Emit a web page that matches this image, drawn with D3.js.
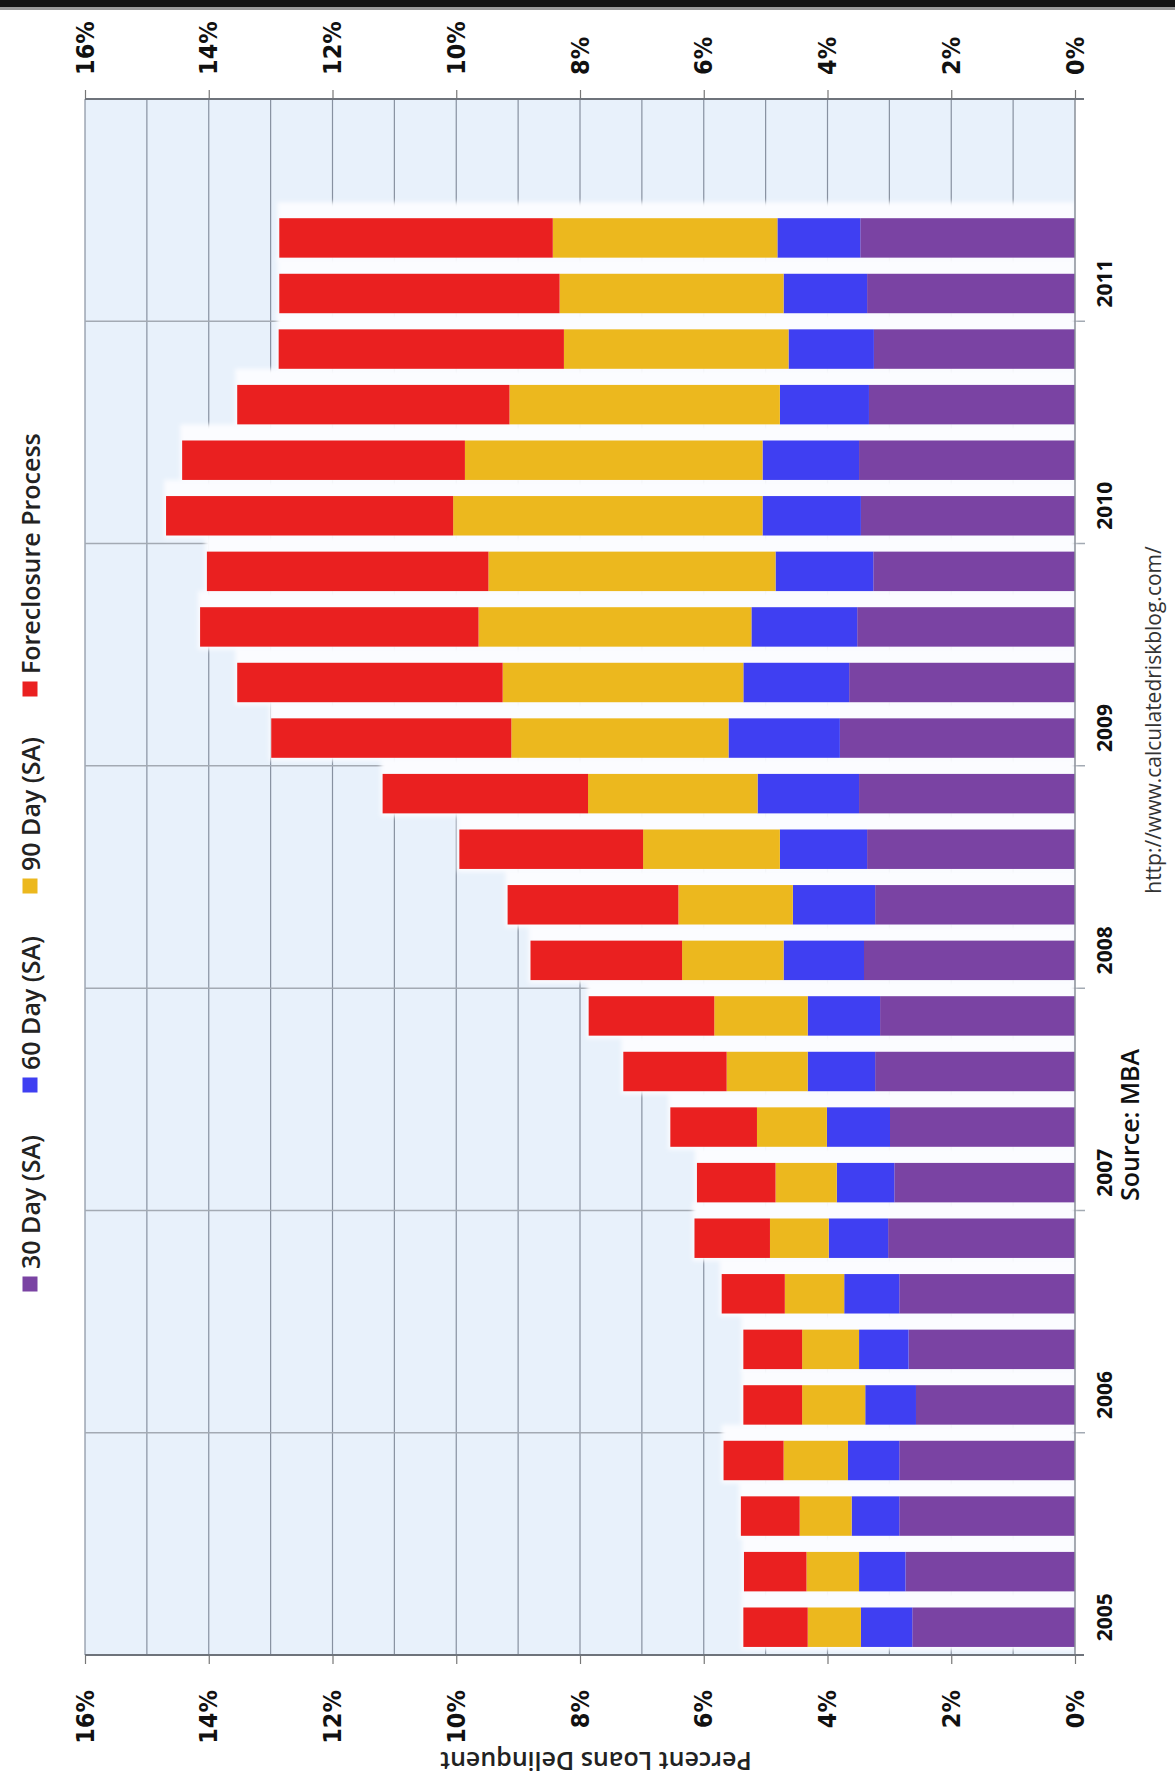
<!DOCTYPE html>
<html>
<head>
<meta charset="utf-8">
<script src="https://cdn.jsdelivr.net/npm/d3@7/dist/d3.min.js"></script>
<style>
  html, body { margin: 0; padding: 0; background: #fff; }
  svg { display: block; }
</style>
</head>
<body>
<svg id="chart" width="1175" height="1786"></svg>
<script>
// quarters on the category axis (last two quarters of 2011 are empty)
const quarters = [
  '2005Q1','2005Q2','2005Q3','2005Q4',
  '2006Q1','2006Q2','2006Q3','2006Q4',
  '2007Q1','2007Q2','2007Q3','2007Q4',
  '2008Q1','2008Q2','2008Q3','2008Q4',
  '2009Q1','2009Q2','2009Q3','2009Q4',
  '2010Q1','2010Q2','2010Q3','2010Q4',
  '2011Q1','2011Q2','2011Q3','2011Q4'
];
const yearLabels = ['2005','2006','2007','2008','2009','2010','2011'];
const valueTicks = [0, 2, 4, 6, 8, 10, 12, 14, 16];
const gridValues = [1, 2, 3, 4, 5, 6, 7, 8, 9, 10, 11, 12, 13, 14, 15, 16];

// percent of loans, 2005Q1 .. 2011Q2
const day30 = [2.63, 2.74, 2.84, 2.84, 2.57, 2.69, 2.84, 3.02, 2.92, 2.99, 3.23, 3.15, 3.41,
               3.23, 3.36, 3.49, 3.80, 3.65, 3.52, 3.26, 3.46, 3.49, 3.33, 3.25, 3.36, 3.47];
const day60 = [0.83, 0.75, 0.77, 0.83, 0.82, 0.80, 0.89, 0.96, 0.93, 1.02, 1.09, 1.17, 1.30,
               1.33, 1.41, 1.64, 1.80, 1.71, 1.71, 1.58, 1.59, 1.56, 1.44, 1.38, 1.35, 1.34];
const day90 = [0.86, 0.85, 0.84, 1.04, 1.02, 0.92, 0.96, 0.95, 0.99, 1.13, 1.31, 1.51, 1.64,
               1.85, 2.21, 2.74, 3.51, 3.89, 4.41, 4.64, 5.00, 4.81, 4.37, 3.63, 3.62, 3.63];
const foreclosure = [1.04, 1.01, 0.95, 0.97, 0.95, 0.95, 1.02, 1.22, 1.27, 1.40, 1.67, 2.03, 2.45,
                     2.76, 2.97, 3.32, 3.88, 4.29, 4.50, 4.55, 4.64, 4.57, 4.40, 4.61, 4.53, 4.42];

const seriesNames = ['30 Day (SA)', '60 Day (SA)', '90 Day (SA)', 'Foreclosure Process'];
const seriesKeys = ['d30', 'd60', 'd90', 'fc'];
const colors = ['#7a43a3', '#3f3ff2', '#ecb81e', '#ea2020'];

const rows = day30.map((v, i) => ({
  q: quarters[i], d30: v, d60: day60[i], d90: day90[i], fc: foreclosure[i]
}));

// chart is laid out as a normal column chart, then turned a quarter turn
const W = 1786;
const margin = { left: 131, right: 1687, top: 85, bottom: 1075 };

const svg = d3.select('#chart');

// dark strip at the very top of the image
svg.append('rect').attr('x', 0).attr('y', 0).attr('width', 1175).attr('height', 7).attr('fill', '#141414');
svg.append('rect').attr('x', 0).attr('y', 7).attr('width', 1175).attr('height', 3).attr('fill', '#9a9a9a');

const defs = svg.append('defs');
defs.append('filter').attr('id', 'soft').attr('x', '-10%').attr('y', '-10%').attr('width', '120%').attr('height', '120%')
  .append('feGaussianBlur').attr('stdDeviation', 2);
defs.append('filter').attr('id', 'soft1')
  .append('feGaussianBlur').attr('stdDeviation', 1);

const g = svg.append('g').attr('transform', `translate(0,${W}) rotate(-90)`);

const x = d3.scaleBand()
  .domain(quarters)
  .range([margin.left, margin.right])
  .paddingInner(0.29)
  .paddingOuter(0.145);

const y = d3.scaleLinear()
  .domain([0, 16])
  .range([margin.bottom, margin.top]);

const step = x.step();
const gap = step - x.bandwidth();

// plot area
g.append('rect')
  .attr('x', margin.left).attr('y', margin.top)
  .attr('width', margin.right - margin.left).attr('height', margin.bottom - margin.top)
  .attr('fill', '#e8f1fb');

// value gridlines
g.append('g').selectAll('line').data(gridValues).join('line')
  .attr('x1', margin.left).attr('x2', margin.right)
  .attr('y1', d => y(d)).attr('y2', d => y(d))
  .attr('stroke', '#8791a0').attr('stroke-width', 1.2);

// year boundaries
const yearStarts = yearLabels.slice(1).map(yr => yr + 'Q1');
g.append('g').selectAll('line').data(yearStarts).join('line')
  .attr('x1', d => x(d) - gap / 2).attr('x2', d => x(d) - gap / 2)
  .attr('y1', margin.top).attr('y2', margin.bottom + 10)
  .attr('stroke', '#a3aab3').attr('stroke-width', 1.5);

// stacked bars
const stacked = d3.stack().keys(seriesKeys)(rows);
const totals = rows.map(r => r.d30 + r.d60 + r.d90 + r.fc);

// white glow + faint shadow in the gap after each bar
const halo = g.append('g');
halo.selectAll('rect').data(rows).join('rect')
  .attr('x', d => x(d.q) - 3)
  .attr('width', x.bandwidth() + gap + 3)
  .attr('y', (d, i) => y(totals[i]) - 2)
  .attr('height', (d, i) => y(0) - y(totals[i]) + 2)
  .attr('fill', '#fbfcff')
  .attr('filter', 'url(#soft)');
halo.selectAll('line').data(rows).join('line')
  .attr('x1', d => x(d.q) + x.bandwidth() + gap * 0.5)
  .attr('x2', d => x(d.q) + x.bandwidth() + gap * 0.5)
  .attr('y1', (d, i) => y(totals[i]))
  .attr('y2', y(0))
  .attr('stroke', '#a8adb8').attr('stroke-width', 4)
  .attr('filter', 'url(#soft1)');

g.append('g').selectAll('g').data(stacked).join('g')
  .attr('fill', (d, i) => colors[i])
  .selectAll('rect').data(d => d).join('rect')
  .attr('x', d => x(d.data.q))
  .attr('width', x.bandwidth())
  .attr('y', d => y(d[1]))
  .attr('height', d => y(d[0]) - y(d[1]));

// category axis line
g.append('line')
  .attr('x1', margin.left).attr('x2', margin.right)
  .attr('y1', y(0)).attr('y2', y(0))
  .attr('stroke', '#8a8f98').attr('stroke-width', 1.5);

// left and right value axes
const pct = d => d + '%';
const tickFont = '"Liberation Sans Narrow", "Arial Narrow", "DejaVu Sans Condensed", sans-serif';

const leftAxis = g.append('g').attr('transform', `translate(${margin.left},0)`)
  .call(d3.axisLeft(y).tickValues(valueTicks).tickFormat(pct).tickSize(9).tickPadding(26));
const rightAxis = g.append('g').attr('transform', `translate(${margin.right},0)`)
  .call(d3.axisRight(y).tickValues(valueTicks).tickFormat(pct).tickSize(9).tickPadding(15));

[leftAxis, rightAxis].forEach(ax => {
  ax.select('.domain').remove();
  ax.selectAll('.tick line').attr('stroke', '#777').attr('stroke-width', 1.2);
  ax.selectAll('.tick text')
    .attr('font-family', tickFont).attr('font-weight', 'bold')
    .attr('font-size', 25).attr('fill', '#111');
});

// axis lines running a little past zero
[margin.left, margin.right].forEach(px => {
  g.append('line')
    .attr('x1', px).attr('x2', px)
    .attr('y1', margin.top).attr('y2', y(0) + 9)
    .attr('stroke', '#6e737b').attr('stroke-width', 2);
});

// year labels
g.append('g').selectAll('text').data(yearLabels).join('text')
  .attr('x', d => x(d + 'Q1') + x.bandwidth() / 2 + 10)
  .attr('y', 1104)
  .attr('text-anchor', 'middle')
  .attr('dominant-baseline', 'central')
  .attr('font-family', '"Open Sans", sans-serif')
  .attr('font-weight', 'bold')
  .attr('font-size', 21)
  .attr('fill', '#111')
  .text(d => d);

// axis title
g.append('text')
  .attr('transform', 'translate(24,596) rotate(-90)')
  .attr('text-anchor', 'middle')
  .attr('dominant-baseline', 'central')
  .attr('font-family', '"Open Sans", sans-serif')
  .attr('font-weight', 600)
  .attr('font-size', 25)
  .attr('fill', '#222')
  .text('Percent Loans Delinquent');

// legend
const legendX = [502, 701, 900, 1097];
const legend = g.append('g').selectAll('g').data(seriesNames).join('g')
  .attr('transform', (d, i) => `translate(${legendX[i]},30)`);
legend.append('rect')
  .attr('x', -7.5).attr('y', -7.5).attr('width', 15).attr('height', 15)
  .attr('fill', (d, i) => colors[i]);
legend.append('text')
  .attr('x', 15).attr('y', 0)
  .attr('dominant-baseline', 'central')
  .attr('font-family', '"Open Sans", sans-serif')
  .attr('font-weight', 600)
  .attr('font-size', 25)
  .attr('fill', '#222')
  .text(d => d);

// source notes
g.append('text')
  .attr('x', 661).attr('y', 1129)
  .attr('text-anchor', 'middle').attr('dominant-baseline', 'central')
  .attr('font-family', '"Open Sans", sans-serif').attr('font-weight', 600)
  .attr('font-size', 25).attr('fill', '#111')
  .text('Source: MBA');
g.append('text')
  .attr('x', 1066).attr('y', 1153)
  .attr('text-anchor', 'middle').attr('dominant-baseline', 'central')
  .attr('font-family', '"Open Sans", sans-serif')
  .attr('font-size', 21).attr('fill', '#333')
  .text('http://www.calculatedriskblog.com/');
</script>
</body>
</html>
